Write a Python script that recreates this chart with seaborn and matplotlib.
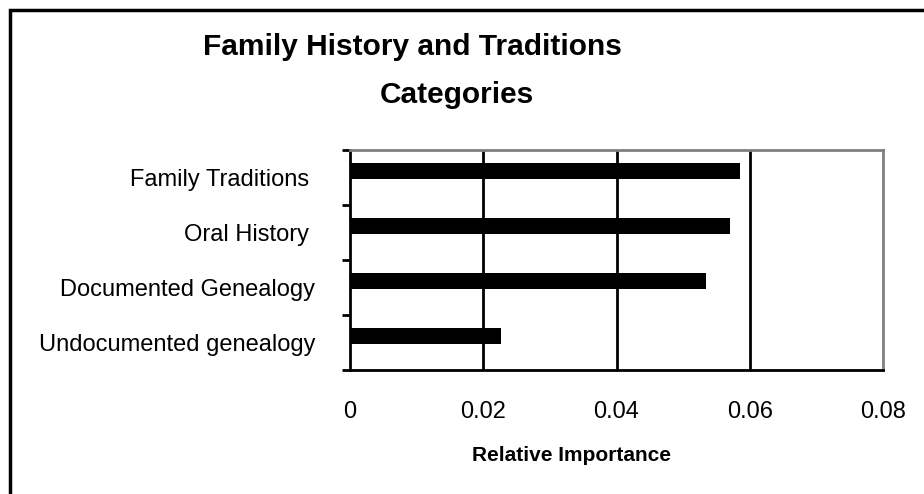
import matplotlib
matplotlib.use("Agg")
import matplotlib.pyplot as plt
import matplotlib.patches as mpatches
import pandas as pd
import seaborn as sns

# values
categories = ["Family Traditions ", "Oral History ", "Documented Genealogy", "Undocumented genealogy"]
importance = [0.0585, 0.0570, 0.0534, 0.0226]
x_ticks = [0, 0.02, 0.04, 0.06, 0.08]
x_tick_labels = ["0", "0.02", "0.04", "0.06", "0.08"]

df = pd.DataFrame({"Category": categories, "Importance": importance})

sns.set_style("white")
plt.rcParams["font.family"] = ["Liberation Sans", "DejaVu Sans"]
plt.rcParams["text.color"] = "black"
plt.rcParams["xtick.color"] = "black"
plt.rcParams["ytick.color"] = "black"

fig = plt.figure(figsize=(9.24, 4.94), dpi=100)
ax = fig.add_axes([350 / 924, 1 - 370 / 494, 533 / 924, 220 / 494])

sns.barplot(data=df, x="Importance", y="Category", orient="h", color="black",
            width=0.3, saturation=1, linewidth=0, edgecolor="black", ax=ax, zorder=3)
# bars sit a little above the middle of each band, as in the original
for p in ax.patches:
    p.set_y(p.get_y() - 0.12)

ax.set_xlim(0, 0.08)
ax.set_ylim(3.5, -0.5)
ax.set_xticks(x_ticks)
ax.set_xticklabels(x_tick_labels, fontsize=17)
ax.tick_params(axis="x", direction="out", length=6, width=2, color="black", pad=16)

# category boundaries get the tick marks, labels sit on minor ticks
ax.set_yticks([-0.5, 0.5, 1.5, 2.5, 3.5])
ax.set_yticklabels([])
ax.set_yticks(range(len(categories)), minor=True)
ax.set_yticklabels(categories, minor=True, fontsize=17)
ax.tick_params(axis="y", which="major", direction="out", length=6, width=2, color="black", left=True)
ax.tick_params(axis="y", which="minor", length=0, pad=25)

for x in x_ticks[1:-1]:
    ax.axvline(x, color="black", lw=2, zorder=1)

ax.set_xlabel("")
ax.set_ylabel("")
for side in ["left", "bottom"]:
    ax.spines[side].set_color("black")
    ax.spines[side].set_linewidth(2)
for side in ["top", "right"]:
    ax.spines[side].set_color("#808080")
    ax.spines[side].set_linewidth(2)

fig.text(412 / 924, 1 - 55 / 494, "Family History and Traditions", ha="center", va="baseline",
         fontsize=21.5, fontweight="bold")
fig.text(457 / 924, 1 - 103 / 494, "Categories", ha="center", va="baseline",
         fontsize=21.5, fontweight="bold")
fig.text(571 / 924, 1 - 455 / 494, "Relative Importance", ha="center", va="center",
         fontsize=15, fontweight="bold")

# outer chart border
fig.patches.append(mpatches.Rectangle((10 / 924, -0.1), 1.2, 1 - 10 / 494 + 0.1,
                                      transform=fig.transFigure, fill=False,
                                      edgecolor="black", lw=2.5))

fig.savefig("out.png", dpi=100)
